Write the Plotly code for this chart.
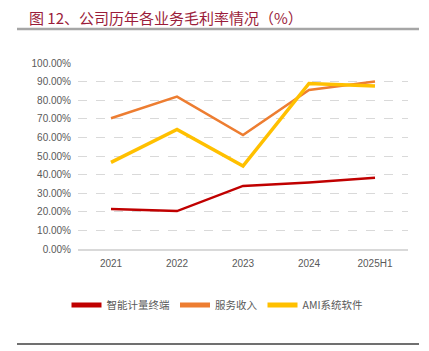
import plotly.graph_objects as go

categories = ["2021", "2022", "2023", "2024", "2025H1"]
smart_meter = [0.215, 0.204, 0.339, 0.358, 0.383]
service = [0.703, 0.819, 0.613, 0.855, 0.900]
ami = [0.466, 0.643, 0.446, 0.890, 0.876]

series_names = ["智能计量终端", "服务收入", "AMI系统软件"]
colors = ["#C00000", "#ED7D31", "#FFC000"]
widths = [2.5, 2.5, 3.5]
tick_vals = [i / 10 for i in range(11)]
tick_text = [f"{v*100:.2f}%" for v in tick_vals]

L, R, T, B = 78, 21, 63, 102
W, H = 429, 351
pw, ph = W - L - R, H - T - B

def px(x):
    return (x - L) / pw

def py(y):
    return (H - B - y) / ph

fig = go.Figure()
for name, vals, c, w in zip(series_names, [smart_meter, service, ami], colors, widths):
    fig.add_trace(go.Scatter(x=categories, y=vals, name=name, mode="lines",
                             line=dict(color=c, width=w)))

fig.update_layout(
    width=W, height=H,
    margin=dict(l=L, r=R, t=T, b=B),
    paper_bgcolor="white", plot_bgcolor="white",
    font=dict(family="Liberation Sans, Noto Sans CJK SC", size=10, color="#595959"),
    showlegend=True,
    legend=dict(orientation="h", x=px(217), xanchor="center", y=py(305), yanchor="middle",
                itemwidth=30, font=dict(family="Noto Sans CJK SC", size=10.5, color="#595959"),
                tracegroupgap=0, itemsizing="constant"),
    xaxis=dict(type="category", range=[-0.5, 4.5], showgrid=False, showline=True,
               linecolor="#d9d9d9", linewidth=1.5, ticks="",
               tickfont=dict(size=10, color="#595959"),
               ticklabelstandoff=4, zeroline=False, fixedrange=True),
    yaxis=dict(range=[0, 1.0], tickvals=tick_vals, ticktext=tick_text, showgrid=True,
               gridcolor="#d9d9d9", griddash="dash", gridwidth=1, zeroline=False,
               showline=False, ticks="", ticklabelstandoff=6,
               tickfont=dict(size=10, color="#595959")),
    annotations=[dict(text="图 12、公司历年各业务毛利率情况（%）", xref="paper", yref="paper",
                      x=px(27), y=py(17), xanchor="left", yanchor="middle", showarrow=False,
                      font=dict(family="Noto Sans CJK SC", size=15, color="#9B1C3A"))],
    shapes=[
        dict(type="line", xref="paper", yref="paper", x0=px(17), x1=px(419), y0=py(29), y1=py(29),
             line=dict(color="#A6A6A6", width=2.5)),
        dict(type="line", xref="paper", yref="paper", x0=px(17), x1=px(419), y0=py(344), y1=py(344),
             line=dict(color="#404040", width=1.5)),
    ],
)

fig.write_html("out.html")
